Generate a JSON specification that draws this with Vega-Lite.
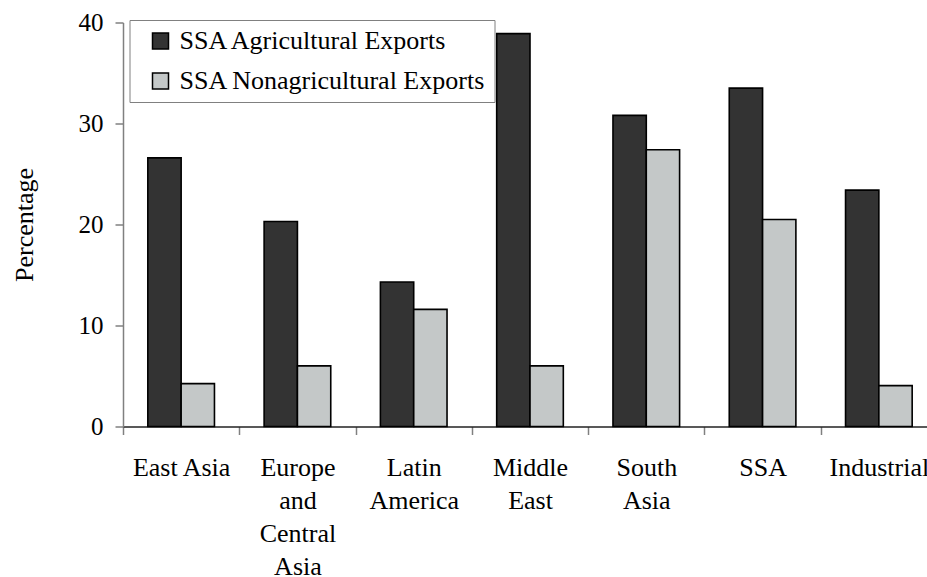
{
  "$schema": "https://vega.github.io/schema/vega-lite/v6.json",
  "autosize": "none",
  "width": 804,
  "height": 404,
  "padding": {"left": 123, "top": 22.5, "right": 0, "bottom": 150.5},
  "background": "white",
  "config": {
    "font": "Liberation Serif",
    "view": {"stroke": null}
  },
  "data": {
    "values": [
      {"region": "East Asia", "series": "SSA Agricultural Exports", "value": 26.6},
      {"region": "East Asia", "series": "SSA Nonagricultural Exports", "value": 4.25},
      {"region": "Europe and Central Asia", "series": "SSA Agricultural Exports", "value": 20.3},
      {"region": "Europe and Central Asia", "series": "SSA Nonagricultural Exports", "value": 6.0},
      {"region": "Latin America", "series": "SSA Agricultural Exports", "value": 14.3},
      {"region": "Latin America", "series": "SSA Nonagricultural Exports", "value": 11.6},
      {"region": "Middle East", "series": "SSA Agricultural Exports", "value": 38.9},
      {"region": "Middle East", "series": "SSA Nonagricultural Exports", "value": 6.0},
      {"region": "South Asia", "series": "SSA Agricultural Exports", "value": 30.8},
      {"region": "South Asia", "series": "SSA Nonagricultural Exports", "value": 27.4},
      {"region": "SSA", "series": "SSA Agricultural Exports", "value": 33.5},
      {"region": "SSA", "series": "SSA Nonagricultural Exports", "value": 20.5},
      {"region": "Industrial", "series": "SSA Agricultural Exports", "value": 23.4},
      {"region": "Industrial", "series": "SSA Nonagricultural Exports", "value": 4.05}
    ]
  },
  "mark": {"type": "bar", "stroke": "black", "strokeWidth": 1.6},
  "encoding": {
    "x": {
      "field": "region",
      "type": "nominal",
      "sort": ["East Asia", "Europe and Central Asia", "Latin America", "Middle East", "South Asia", "SSA", "Industrial"],
      "scale": {"range": [0, 814], "paddingInner": 0.427, "paddingOuter": 0.2135},
      "axis": {
        "title": null,
        "labelAngle": 0,
        "labelFont": "Liberation Serif",
        "labelFontSize": 26,
        "labelColor": "black",
        "labelLineHeight": 33,
        "labelPadding": 20,
        "labelBaseline": "top",
        "labelExpr": "!isValid(datum.value) ? '' : datum.value == 'East Asia' ? datum.value : split(datum.value, ' ')",
        "tickOffset": -58.15,
        "labelOffset": 58.15,
        "tickSize": 8,
        "tickColor": "#808080",
        "tickWidth": 1.5,
        "domainColor": "#222222",
        "domainWidth": 1.5,
        "labelLimit": 0
      }
    },
    "xOffset": {"field": "series", "type": "nominal"},
    "y": {
      "field": "value",
      "type": "quantitative",
      "scale": {"domain": [0, 40], "nice": false},
      "axis": {
        "title": "Percentage",
        "titleFont": "Liberation Serif",
        "titleFontSize": 26,
        "titleFontWeight": "normal",
        "titleColor": "black",
        "titleX": -91,
        "titleY": 202,
        "titleAngle": -90,
        "titleAlign": "center",
        "titleBaseline": "alphabetic",
        "values": [0, 10, 20, 30, 40],
        "grid": false,
        "labelFont": "Liberation Serif",
        "labelFontSize": 25,
        "labelColor": "black",
        "labelPadding": 12,
        "tickSize": 8,
        "tickColor": "#808080",
        "tickWidth": 1.5,
        "domainColor": "#808080",
        "domainWidth": 1.5
      }
    },
    "color": {
      "field": "series",
      "type": "nominal",
      "scale": {"domain": ["SSA Agricultural Exports", "SSA Nonagricultural Exports"], "range": ["#333333", "#c4c8c8"]},
      "legend": {
        "title": null,
        "orient": "none",
        "legendX": 6.5,
        "legendY": -2.5,
        "direction": "vertical",
        "labelFont": "Liberation Serif",
        "labelFontSize": 26,
        "labelColor": "black",
        "labelOffset": 6,
        "labelLimit": 0,
        "symbolType": "square",
        "symbolSize": 256,
        "symbolStrokeColor": "black",
        "symbolStrokeWidth": 1.5,
        "symbolOffset": 10,
        "rowPadding": 14,
        "padding": 8,
        "strokeColor": "#808080",
        "fillColor": "white"
      }
    }
  }
}
